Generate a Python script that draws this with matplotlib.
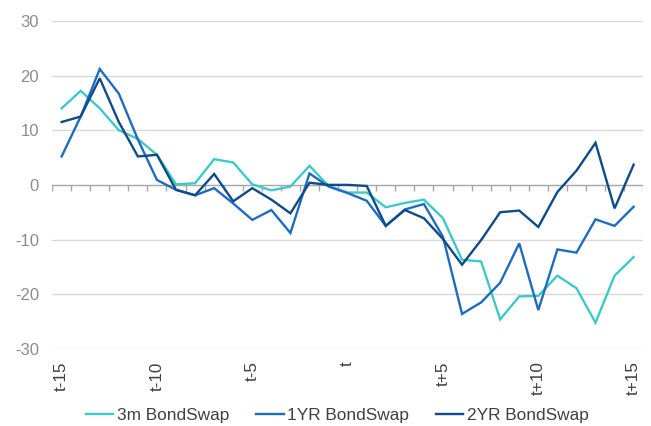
import matplotlib
matplotlib.use("Agg")
import matplotlib.pyplot as plt
import numpy as np

plt.rcParams['font.family'] = ['Liberation Sans', 'DejaVu Sans']

periods = ["t-15", "t-14", "t-13", "t-12", "t-11", "t-10", "t-9", "t-8", "t-7", "t-6",
           "t-5", "t-4", "t-3", "t-2", "t-1", "t", "t+1", "t+2", "t+3", "t+4",
           "t+5", "t+6", "t+7", "t+8", "t+9", "t+10", "t+11", "t+12", "t+13", "t+14", "t+15"]
shown_labels = ["t-15", "t-10", "t-5", "t", "t+5", "t+10", "t+15"]

bond_3m = [14.0, 17.2, 14.0, 10.0, 8.4, 5.5, 0.1, 0.3, 4.7, 4.1,
           0.1, -1.0, -0.3, 3.5, -0.2, -1.4, -1.4, -4.1, -3.3, -2.7,
           -6.1, -13.7, -14.0, -24.6, -20.4, -20.3, -16.6, -18.9, -25.2, -16.6, -13.2]
bond_1yr = [5.2, 12.5, 21.2, 16.7, 8.3, 0.9, -0.9, -1.9, -0.6, -3.4,
            -6.4, -4.6, -8.8, 2.1, -0.3, -1.5, -2.9, -7.5, -4.5, -3.5,
            -9.5, -23.6, -21.5, -17.9, -10.7, -22.9, -11.8, -12.4, -6.3, -7.5, -4.0]
bond_2yr = [11.5, 12.5, 19.5, 11.5, 5.2, 5.5, -0.9, -1.9, 2.0, -3.0,
            -0.6, -2.7, -5.2, 0.4, 0.0, 0.0, -0.2, -7.5, -4.6, -6.1,
            -9.9, -14.6, -10.1, -5.0, -4.7, -7.7, -1.3, 2.6, 7.7, -4.3, 3.7]

series_names = ["3m BondSwap", "1YR BondSwap", "2YR BondSwap"]
colors = ["#3EC9C9", "#1F6CBF", "#0E4B89"]

fig = plt.figure(figsize=(6.51, 4.26), dpi=100)
ax = fig.add_axes([0.08, 0.181, 0.908, 0.770])

x = np.arange(len(periods))
for vals, name, c in zip([bond_3m, bond_1yr, bond_2yr], series_names, colors):
    ax.plot(x, vals, color=c, lw=1.7, label=name, zorder=3, solid_joinstyle='miter')

ax.set_xlim(-0.5, len(periods) - 0.5)
ax.set_ylim(-30, 30)
ax.set_yticks([-30, -20, -10, 0, 10, 20, 30])
ax.set_yticklabels(["-30", "-20", "-10", "0", "10", "20", "30"])
for yv in [-30, -20, -10, 10, 20, 30]:
    ax.axhline(yv, color="#D9D9D9", lw=1.0, zorder=1)
ax.axhline(0, color="#A6A6A6", lw=1.0, zorder=2)
# category tick marks on the zero axis
bounds = np.arange(len(periods) + 1) - 0.5
ax.vlines(bounds, -1.1, 0, color="#A6A6A6", lw=1.0, zorder=2)

pos = [periods.index(l) for l in shown_labels]
ax.set_xticks(pos)
ax.set_xticklabels(shown_labels, rotation=90, color="#404040", fontsize=12.3)
ax.tick_params(axis='x', length=0, pad=9)
ax.tick_params(axis='y', length=0, pad=9.5, labelsize=12, labelcolor="#8C8C8C")
for s in ax.spines.values():
    s.set_visible(False)

fig.legend(loc='center', bbox_to_anchor=(0.518, 0.025), ncol=3, frameon=False,
           fontsize=12.4, handlelength=1.6, handletextpad=0.2, columnspacing=1.55,
           labelcolor="#404040")

fig.savefig("out.png", dpi=100)
